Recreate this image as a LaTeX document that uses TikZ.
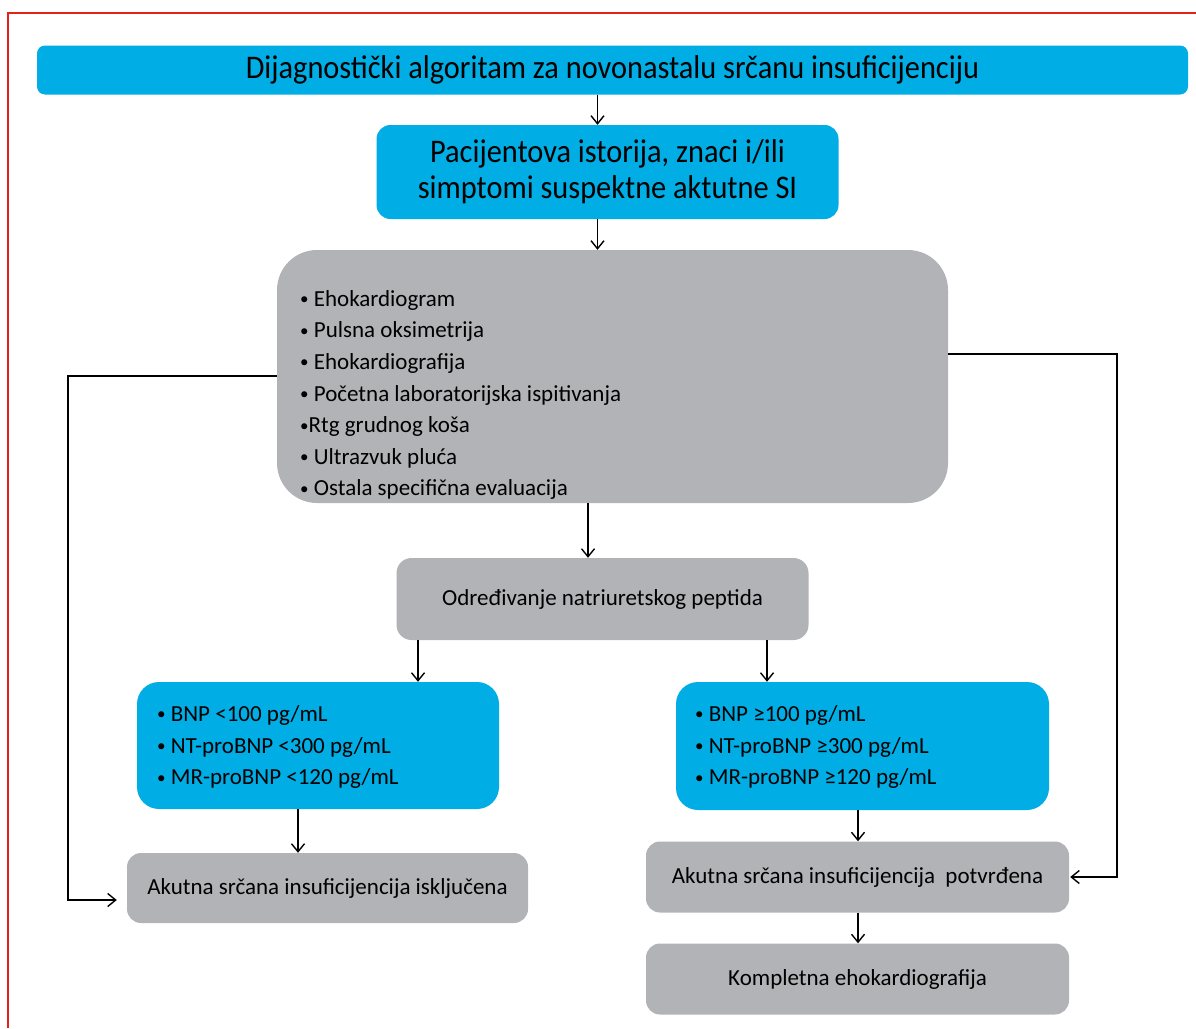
\documentclass[tikz,border=0pt]{standalone}
\usepackage{fontspec}
\setmainfont{Carlito}
\newfontfamily\condfont[FakeStretch=0.92]{Carlito}
\usetikzlibrary{arrows.meta}
\definecolor{boxcyan}{HTML}{00ADE4}
\definecolor{boxgray}{HTML}{B1B3B6}
\definecolor{framered}{HTML}{E2231A}
\newcommand{\bul}{\raisebox{1.5pt}{\fontsize{17}{17}\selectfont•}}
\begin{document}
\begin{tikzpicture}[x=1pt,y=-1pt,
  cyanbox/.style={fill=boxcyan,rounded corners=#1,inner sep=0pt},
  cyanbox/.default=22pt,
  graybox/.style={fill=boxgray,rounded corners=#1,inner sep=0pt},
  graybox/.default=14pt,
  arr/.style={-{Straight Barb[length=8pt,width=13pt]},line width=1.4pt},
  bigtext/.style={font=\condfont\fontsize{33}{36}\selectfont},
  midtext/.style={font=\fontsize{23}{31.6}\selectfont}]
\useasboundingbox (0,0) rectangle (1196,1028);
\draw[framered,line width=1.3pt] (8,1028) -- (8,13) -- (1196,13);

\node[cyanbox=8pt,minimum width=1151pt,minimum height=49pt,bigtext] (title) at (612.5,70)
  {Dijagnostički algoritam za novonastalu srčanu insuficijenciju};
\node[cyanbox=14pt,minimum width=462pt,minimum height=94pt,bigtext,align=center] (hist) at (607.5,172)
  {Pacijentova istorija, znaci i/ili\\simptomi suspektne aktutne SI};
\node[graybox=40pt,minimum width=671pt,minimum height=253pt] (eval) at (612.5,376.5) {};
\node[midtext,align=left,anchor=west,inner sep=0pt] (evallist) at (300,395)
  {\bul\ Ehokardiogram\\\bul\ Pulsna oksimetrija\\\bul\ Ehokardiografija\\\bul\ Početna laboratorijska ispitivanja\\\bul Rtg grudnog koša\\\bul\ Ultrazvuk pluća\\\bul\ Ostala specifična evaluacija};
\node[graybox=15pt,minimum width=412pt,minimum height=82pt,midtext] (natr) at (602.5,599)
  {Određivanje natriuretskog peptida};

\node[cyanbox,minimum width=362pt,minimum height=127pt] (low) at (318,745.5) {};
\node[midtext,align=left,anchor=west,inner sep=0pt] (lowlist) at (157,747)
  {\bul\ BNP <100 pg/mL\\\bul\ NT-proBNP <300 pg/mL\\\bul\ MR-proBNP <120 pg/mL};
\node[cyanbox,minimum width=373pt,minimum height=128pt] (high) at (862.5,746) {};
\node[midtext,align=left,anchor=west,inner sep=0pt] (highlist) at (695,747)
  {\bul\ BNP ≥100 pg/mL\\\bul\ NT-proBNP ≥300 pg/mL\\\bul\ MR-proBNP ≥120 pg/mL};

\node[graybox,minimum width=401pt,minimum height=70pt,midtext] (excl) at (327.5,888)
  {Akutna srčana insuficijencija isključena};
\node[graybox,minimum width=423pt,minimum height=71pt,midtext] (conf) at (857.5,877)
  {Akutna srčana insuficijencija\ \ potvrđena};
\node[graybox,minimum width=423pt,minimum height=71pt,midtext] (echo) at (857.5,979)
  {Kompletna ehokardiografija};

\draw[arr] ([xshift=-15pt]title.south) -- ([xshift=-10pt]hist.north);
\draw[arr] ([xshift=-10pt]hist.south) -- ([xshift=-15pt]eval.north);
\draw[arr] ([xshift=-24.5pt]eval.south) -- ([xshift=-14.5pt]natr.north);
\draw[arr] ([xshift=-184.5pt]natr.south) -- ([xshift=100pt]low.north);
\draw[arr] ([xshift=164.5pt]natr.south) -- ([xshift=-95.5pt]high.north);
\draw[arr] ([xshift=-20pt]low.south) -- ([xshift=-29.5pt]excl.north);
\draw[arr] ([xshift=-4.5pt]high.south) -- ([xshift=0.5pt]conf.north);
\draw[arr] ([xshift=0.5pt]conf.south) -- ([xshift=0.5pt]echo.north);
\draw[arr] ([yshift=0.5pt]eval.west) -| (68,900) -- ([yshift=-12pt,xshift=-10pt]excl.west);
\draw[arr] ([yshift=22.5pt]eval.east) -| (1117,877) -- ([xshift=1pt]conf.east);
\end{tikzpicture}
\end{document}
